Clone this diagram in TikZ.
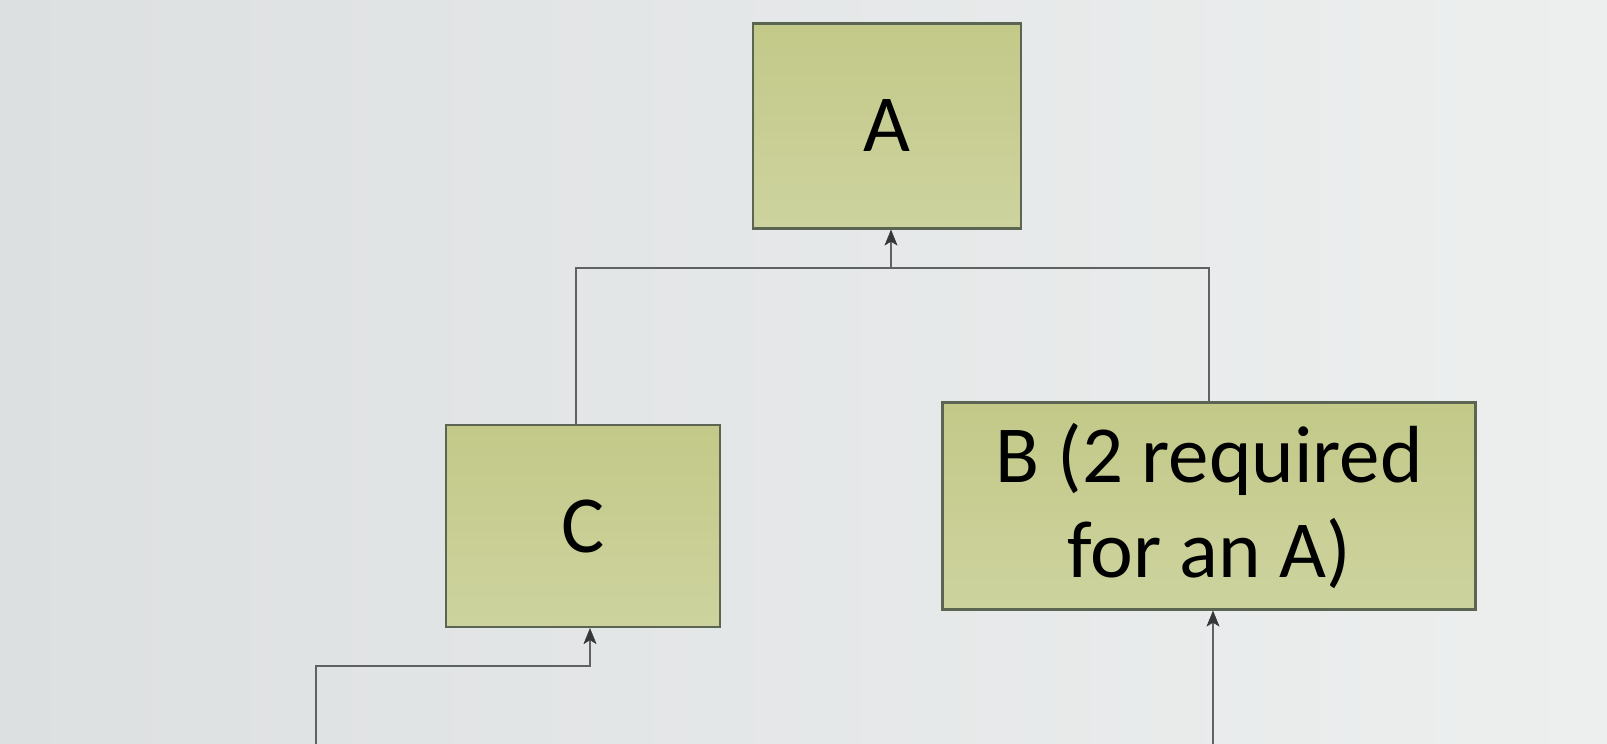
\documentclass[tikz,border=0pt]{standalone}
\usepackage{fontspec}
\setmainfont{Carlito}
\usetikzlibrary{arrows.meta}
\definecolor{bgl}{HTML}{DDE0E1}
\definecolor{bgr}{HTML}{EDEFEF}
\definecolor{boxtop}{HTML}{C3C988}
\definecolor{boxbot}{HTML}{CDD39E}
\definecolor{boxline}{HTML}{5C6552}
\definecolor{wire}{HTML}{5E6262}
\definecolor{tipc}{HTML}{353838}
\tikzset{
  blk/.style={draw=boxline, line width=2.2pt, top color=boxtop, bottom color=boxbot,
    inner sep=0pt, align=center, text=black, font=\fontsize{81}{95}\selectfont},
  wirel/.style={draw=wire, line width=2pt},
  arr/.style={wirel, -{Stealth[length=16pt,width=13pt,inset=4pt,fill=tipc,color=tipc,line width=0.5pt]}}
}
\begin{document}
\begin{tikzpicture}[x=1pt,y=-1pt]
\shade[left color=bgl, right color=bgr] (0,0) rectangle (1607,744);
\useasboundingbox (0,0) rectangle (1607,744);
\node[blk, minimum width=268pt, minimum height=205pt] (A) at (887,126) {A};
\node[blk, minimum width=274pt, minimum height=202pt] (C) at (583,526) {C};
\node[blk, minimum width=533pt, minimum height=207pt] (B) at (1209,506) {B (2 required\\for an A)};
\coordinate (bar) at (891,268);
\coordinate (barL) at (576,268);
\coordinate (barR) at (1209,268);
\coordinate (cj) at (590,666);
\coordinate (cL) at (316,666);
\coordinate (cE) at (316,744);
\coordinate (bE) at (1213,744);
\draw[wirel] (barL |- C.north) -- (barL) -- (barR) -- (barR |- B.north);
\draw[arr] (bar) -- (bar |- A.south);
\draw[arr] (cE) -- (cL) -- (cj) -- (cj |- C.south);
\draw[arr] (bE) -- (bE |- B.south);
\end{tikzpicture}
\end{document}
